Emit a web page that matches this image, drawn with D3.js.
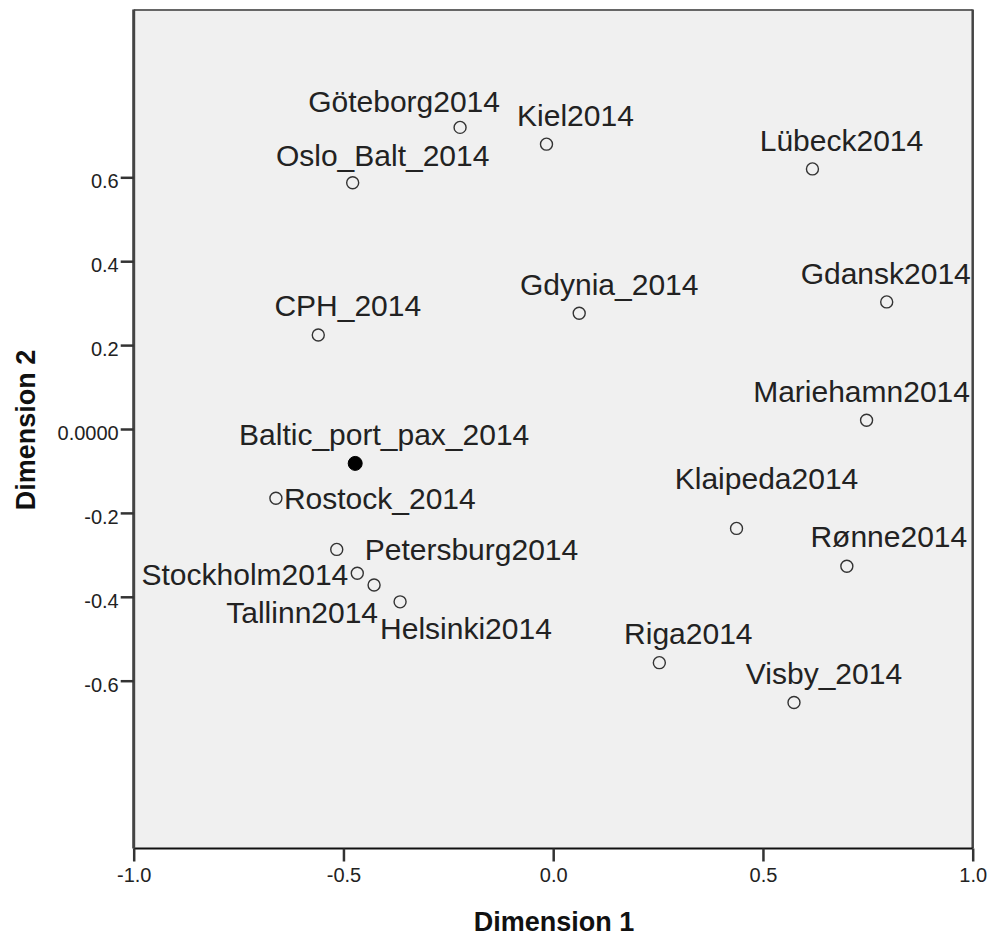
<!DOCTYPE html>
<html>
<head>
<meta charset="utf-8">
<script src="https://cdn.jsdelivr.net/npm/d3@7/dist/d3.min.js"></script>
<style>
  body { margin: 0; background: #ffffff; }
  svg { display: block; }
  text { font-family: "Liberation Sans", Arial, sans-serif; }
</style>
</head>
<body>
<svg id="chart" width="990" height="937"></svg>
<script>
// ---- data ----
const names = ["Göteborg2014","Kiel2014","Oslo_Balt_2014","Lübeck2014","Gdynia_2014","Gdansk2014",
  "CPH_2014","Mariehamn2014","Baltic_port_pax_2014","Rostock_2014","Klaipeda2014","Petersburg2014",
  "Stockholm2014","Tallinn2014","Helsinki2014","Rønne2014","Riga2014","Visby_2014"];
const dim1 = [-0.222,-0.016,-0.478,0.618,0.062,0.795,-0.560,0.747,-0.472,-0.661,0.437,-0.516,-0.467,-0.427,-0.365,0.700,0.253,0.574];
const dim2 = [0.719,0.679,0.587,0.620,0.276,0.303,0.224,0.021,-0.082,-0.165,-0.237,-0.287,-0.344,-0.372,-0.412,-0.327,-0.557,-0.652];
const isSource = [false,false,false,false,false,false,false,false,true,false,false,false,false,false,false,false,false,false];

const xTickValues = [-1.0,-0.5,0.0,0.5,1.0];
const xTickLabels = ["-1.0","-0.5","0.0","0.5","1.0"];
const yTickValues = [0.6,0.4,0.2,0.0,-0.2,-0.4,-0.6];
const yTickLabels = ["0.6","0.4","0.2","0.0000","-0.2","-0.4","-0.6"];

// label placement (layout only): anchor, dx, dy (baseline) relative to point
const labelAnchor = ["middle","middle","middle","middle","middle","middle","middle","middle","middle","start","middle","start","end","end","start","middle","middle","middle"];
const labelDx = [-56,29,30,29,30,-1,29.5,-5,29,8,30,28,-9,4,-20,42,29,30];
const labelDy = [-15,-18,-17,-18,-18,-18,-19,-18,-18,11,-39,11,12,38,37,-19,-19,-19];

// ---- layout ----
const L = 133.7, R = 972.7, T = 9.5, B = 848.5;
const x = d3.scaleLinear().domain([-1, 1]).range([L, R]);
const y = d3.scaleLinear().domain([-1, 1]).range([B, T]);

const svg = d3.select("#chart");

svg.append("rect").attr("x", L).attr("y", T).attr("width", R - L).attr("height", B - T)
  .attr("fill", "#f0f0f0");

// frame
svg.append("line").attr("x1", L).attr("x2", R).attr("y1", T + 0.5).attr("y2", T + 0.5)
  .attr("stroke", "#666").attr("stroke-width", 2);
svg.append("line").attr("x1", R).attr("x2", R).attr("y1", T).attr("y2", B)
  .attr("stroke", "#444").attr("stroke-width", 2.5);
svg.append("line").attr("x1", L).attr("x2", R).attr("y1", B).attr("y2", B)
  .attr("stroke", "#111").attr("stroke-width", 2);
svg.append("line").attr("x1", L).attr("x2", L).attr("y1", T).attr("y2", B)
  .attr("stroke", "#444").attr("stroke-width", 3);

// axes
const xAxis = d3.axisBottom(x).tickValues(xTickValues)
  .tickFormat((d, i) => xTickLabels[i]).tickSize(13).tickPadding(6.5);
const gx = svg.append("g").attr("transform", `translate(0,${B})`).call(xAxis);
gx.select(".domain").remove();
gx.selectAll(".tick line").attr("stroke", "#333").attr("stroke-width", 2.5);
gx.selectAll(".tick text").attr("font-size", 20).attr("fill", "#222")
  .style("font-family", '"Liberation Sans", Arial, sans-serif');

const yAxis = d3.axisLeft(y).tickValues(yTickValues)
  .tickFormat((d, i) => yTickLabels[i]).tickSize(13).tickPadding(2);
const gy = svg.append("g").attr("transform", `translate(${L},0)`).call(yAxis);
gy.select(".domain").remove();
gy.selectAll(".tick line").attr("stroke", "#333").attr("stroke-width", 2.5);
gy.selectAll(".tick text").attr("font-size", 20).attr("fill", "#222").attr("dy", "0.52em")
  .style("font-family", '"Liberation Sans", Arial, sans-serif');

// axis titles
svg.append("text").attr("x", 554).attr("y", 931).attr("text-anchor", "middle")
  .attr("font-size", 27).attr("font-weight", "bold").attr("fill", "#111").text("Dimension 1");
svg.append("text").attr("transform", "translate(35,430) rotate(-90)").attr("text-anchor", "middle")
  .attr("font-size", 27).attr("font-weight", "bold").attr("fill", "#111").text("Dimension 2");

// points
const pts = names.map((n, i) => ({ name: n, d1: dim1[i], d2: dim2[i], src: isSource[i],
  anchor: labelAnchor[i], dx: labelDx[i], dy: labelDy[i] }));

svg.append("g").selectAll("circle").data(pts).join("circle")
  .attr("cx", d => x(d.d1)).attr("cy", d => y(d.d2))
  .attr("r", d => d.src ? 7 : 6)
  .attr("fill", d => d.src ? "#000" : "none")
  .attr("stroke", d => d.src ? "#000" : "#333")
  .attr("stroke-width", d => d.src ? 1 : 1.4);

svg.append("g").selectAll("text").data(pts).join("text")
  .attr("x", d => x(d.d1) + d.dx).attr("y", d => y(d.d2) + d.dy)
  .attr("text-anchor", d => d.anchor)
  .attr("font-size", 30).attr("fill", "#222")
  .text(d => d.name);
</script>
</body>
</html>
